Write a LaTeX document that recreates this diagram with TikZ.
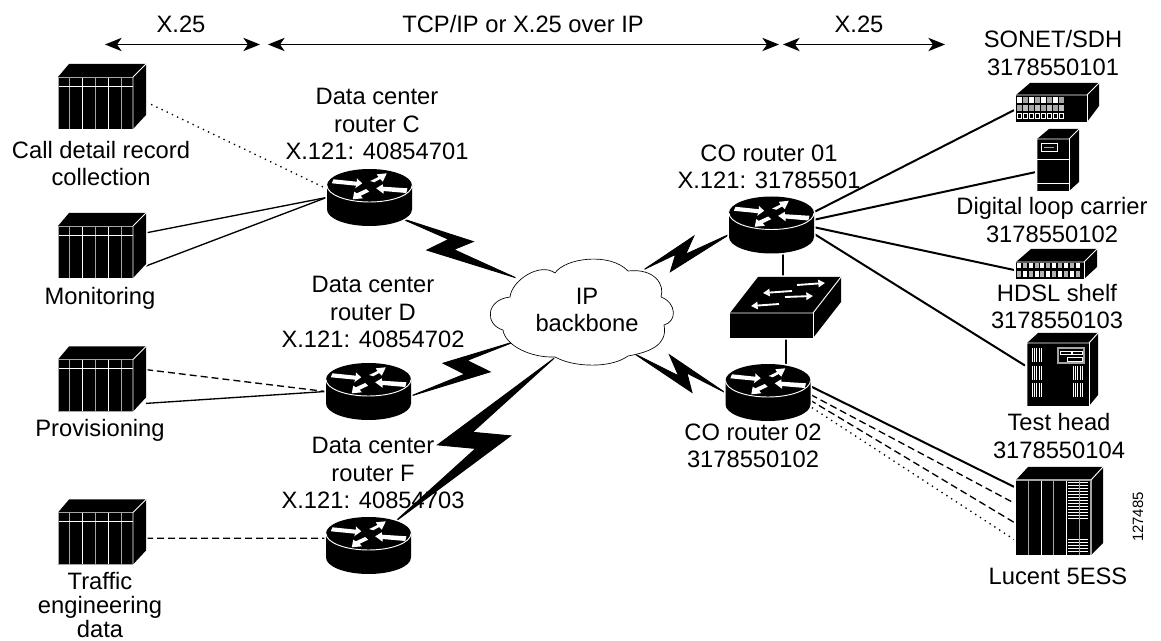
\documentclass[tikz,border=0pt]{standalone}
\usepackage{fontspec}
\setmainfont{Liberation Sans}
\usetikzlibrary{arrows.meta,calc,shapes.geometric}
\definecolor{lightedge}{gray}{0.65}

% zigzag between two nodes: tip, inner point, end, tip, inner point
\newcommand{\bolt}[9]{\filldraw[line width=0.7pt,line join=miter] (#1) -- ($(#1)!#3!(#2)+(#1)!#4!90:(#2)-(#1)$) -- ($(#1)!#7!(#2)+(#1)!-#9!90:(#2)-(#1)$) -- (#2) -- ($(#1)!#5!(#2)+(#1)!#6!90:(#2)-(#1)$) -- ($(#1)!#8!(#2)+(#1)!#9!90:(#2)-(#1)$) -- cycle;}

\tikzset{
  lbl/.style={align=center,inner sep=0pt,font=\fontsize{17.8}{20.3}\selectfont},
  box/.style={rectangle,inner sep=0pt,outer sep=0pt},
  rackbox/.style={box,minimum width=66pt,minimum height=48.75pt},
  roundbox/.style={ellipse,inner sep=0pt,outer sep=0pt,minimum width=64.5pt,minimum height=42.75pt},
  hop/.style={line width=1pt,{Stealth[length=12.5pt,width=10pt,inset=3.5pt]}-{Stealth[length=12.5pt,width=10pt,inset=3.5pt]}},
  thinline/.style={line width=1pt},
  heavyline/.style={line width=1.5pt},
  dots/.style={line width=1pt,dash pattern=on 1pt off 3.3pt},
  dashes/.style={line width=1pt,dash pattern=on 5.25pt off 3pt},
  body/.style={fill=black,preaction={draw=white,line width=2.5pt}},
  edgew/.style={white,line width=0.7pt},
  edgeg/.style={lightedge,line width=0.6pt},
  rimg/.style={lightedge,line width=1pt},
  pics/rack/.style={code={
    \path[body] (-44,-19.5)--(-33,-32.5)--(44,-32.5)--(44,18.5)--(31,32.5)--(-44,32.5)--cycle;
    \foreach \x in {-33,-7,19} {\draw[edgeg] (\x,-19.5)--(\x,32.5);}
    \foreach \x in {-20,6} {\draw[edgew] (\x,-19.5)--(\x,32.5);}
    \draw[edgew] (-44,-10.5)--(31,-10.5);
    \draw[edgeg] (-44,32.5)--(-44,-19.5)--(31,-19.5);
    \draw[edgew] (44,-32.5)--(31,-19.5)--(31,32.5);
  }},
  pics/router/.style={code={
    \path[body] (-42.5,-12) .. controls (-42.5,-21.1) and (-23.5,-28.5) .. (0,-28.5) .. controls (23.5,-28.5) and (42.5,-21.1) .. (42.5,-12) -- (42.5,12) .. controls (42.5,21.1) and (23.5,28.5) .. (0,28.5) .. controls (-23.5,28.5) and (-42.5,21.1) .. (-42.5,12) -- cycle;
    \draw[edgew] (-42.5,-12) .. controls (-42.5,-2.9) and (-23.5,4.5) .. (0,4.5) .. controls (23.5,4.5) and (42.5,-2.9) .. (42.5,-12);
    \fill[white] (-36,-18.2)--(-37.7,-14.2)--(-13.3,-11.8)--(-14.3,-9.2)--(-7.3,-14.2)--(-12.7,-19.2)--(-12.7,-15.8)--cycle;
    \fill[white] (0.7,-16.5)--(4.7,-15.2)--(10.7,-18.5)--(13.3,-15.8)--(17.3,-24.2)--(7.3,-23.2)--(9,-20.5)--cycle;
    \fill[white] (-3.3,-8.5)--(-0.3,-5.8)--(-8.7,-1.8)--(-6.7,0.8)--(-16.7,1.8)--(-15.3,-5.8)--(-12.7,-4.2)--cycle;
    \fill[white] (38,-9.2)--(36.7,-4.5)--(14,-6.5)--(14,-3.8)--(6.7,-9.2)--(13.3,-13.2)--(13.3,-10.8)--cycle;
  }},
  pics/switchbox/.style={code={
    \path[body] (-55.5,5.5)--(-27.5,-30.5)--(55.5,-30.5)--(55.5,-5.5)--(27.5,30.5)--(-55.5,30.5)--cycle;
    \draw[edgew] (-55.5,5.5)--(27.5,5.5)--(55.5,-30.5);
    \draw[edgew] (27.5,5.5)--(27.5,30.5);
    \foreach \a/\b/\c/\d in {11.5/-22.5/39.5/-24.5,6.5/-16.5/-22.5/-14.5,-0.5/-10.5/27.5/-11.5,-6.5/-3.5/-34.5/-1.5}
      {\draw[white,line width=1.4pt,-{Triangle[length=5pt,width=5.5pt]}] (\a,\b)--(\c,\d);}
  }},
  pics/sonetbox/.style={code={
    \path[body] (-41.5,-7.5)--(-27.5,-19.5)--(41.5,-19.5)--(41.5,3.5)--(29.5,19.5)--(-41.5,19.5)--cycle;
    \draw[edgew] (-41.5,-7.5)--(29.5,-7.5)--(41.5,-19.5);
    \draw[edgew] (29.5,-7.5)--(29.5,19.5);
    \foreach \k in {0,...,7} {
      \pgfmathsetmacro{\xa}{-40.5+6*\k}
      \pgfmathsetmacro{\shade}{mod(\k,2)==0 ? 100 : 65}
      \fill[white!\shade!black] (\xa,-5.5) rectangle ++(4.5,6);
      \pgfmathsetmacro{\shade}{mod(\k,2)==0 ? 65 : 75}
      \fill[white!\shade!black] (\xa,2.5) rectangle ++(4.5,6);
      \draw[edgew,line width=0.5pt] (\xa,10.5) rectangle ++(4.5,5);
    }
  }},
  pics/serverbox/.style={code={
    \path[body] (-21,-21)--(-9,-31)--(21,-31)--(21,22)--(11,31)--(-21,31)--cycle;
    \draw[edgew] (-21,31)--(-21,-21)--(11,-21)--(21,-31);
    \draw[edgew] (11,-21)--(11,31);
    \draw[edgew] (-21,-1)--(11,-1);
    \draw[edgew] (-21,23)--(11,23);
    \draw[edgew] (-17,-17) rectangle (-1,-9);
    \draw[edgeg] (-14,-13)--(-4,-13);
  }},
  pics/shelfbox/.style={code={
    \path[body] (-40.5,-2)--(-25.5,-15)--(40.5,-15)--(40.5,3)--(27.5,15)--(-40.5,15)--cycle;
    \draw[edgew] (-40.5,-2)--(27.5,-2)--(40.5,-15);
    \draw[edgew] (27.5,-2)--(27.5,15);
    \foreach \k in {0,...,10} {
      \pgfmathsetmacro{\xa}{-39.5+5.85*\k}
      \pgfmathsetmacro{\shade}{mod(\k,2)==0 ? 100 : 70}
      \fill[white!\shade!black] (\xa,-0.5) rectangle ++(4,4.5);
      \pgfmathsetmacro{\shade}{mod(\k,2)==0 ? 70 : 100}
      \fill[white!\shade!black] (\xa,7) rectangle ++(4,6);
    }
  }},
  pics/testbox/.style={code={
    \path[body] (-35.5,-26.5)--(-24.5,-36.5)--(35.5,-36.5)--(35.5,25.5)--(26.5,36.5)--(-35.5,36.5)--cycle;
    \draw[edgew] (-35.5,36.5)--(-35.5,-26.5)--(26.5,-26.5)--(35.5,-36.5);
    \draw[edgew] (26.5,-26.5)--(26.5,36.5);
    \foreach \xb/\yb in {-30.5/-21.5,-30.5/-3.5,-30.5/13.5,10.5/-3.5,10.5/13.5}
      \foreach \k in {0,...,4} {\draw[white,line width=0.6pt] (\xb+2.4*\k,\yb)--(\xb+2.4*\k,\yb+14.5);}
    \draw[edgeg,line width=0.9pt] (-4.5,-21.5) rectangle (21.5,-6.5);
    \draw[edgew,line width=0.5pt] (-2.5,-18.5) rectangle (8.5,-15.5);
    \draw[edgew,line width=0.5pt] (9.5,-18.5) rectangle (19.5,-15.5);
    \draw[edgew,line width=0.5pt] (4.5,-12.5) rectangle (19.5,-8.5);
  }},
  pics/essbox/.style={code={
    \path[body] (-43.5,-31)--(-31.5,-44)--(43.5,-44)--(43.5,32)--(31.5,44)--(-43.5,44)--cycle;
    \foreach \x in {-31.5,-6.5} {\draw[edgeg] (\x,-31)--(\x,44);}
    \foreach \x in {-18.5,6.5} {\draw[edgew] (\x,-31)--(\x,44);}
    \foreach \y in {-29,-26,...,7} {\draw[white,line width=0.6pt] (8.5,\y)--(28.5,\y);}
    \foreach \y in {28,31,...,42} {\draw[white,line width=0.6pt] (8.5,\y)--(28.5,\y);}
    \draw[edgeg] (19.5,-31)--(19.5,44);
    \draw[rimg] (-43.5,-31)--(31.5,-31)--(31.5,44);
    \draw[edgew] (31.5,-31)--(43.5,-44);
  }}
}

\begin{document}
\begin{tikzpicture}[x=0.75pt,y=-0.75pt]
\useasboundingbox (0,0) rectangle (1161,641);

\coordinate (hopa) at (105,44.5);
\coordinate (hopb) at (260,44.5);
\coordinate (hopc) at (268,44.5);
\coordinate (hopd) at (779,44.5);
\coordinate (hope) at (783,44.5);
\coordinate (hopf) at (945,44.5);
\node[lbl] (xleft) at (181,24) {X.25};
\node[lbl] (overip) at (523,24) {TCP/IP or X.25 over IP};
\node[lbl] (xright) at (859,24) {X.25};

\node[rackbox] (cdr) at (102,96.5) {};
\node[rackbox] (mon) at (102,245.5) {};
\node[rackbox] (prov) at (102,379) {};
\node[rackbox] (traf) at (102,532) {};
\node[roundbox] (routerC) at (369.5,197.5) {};
\node[roundbox] (routerD) at (368.5,391.5) {};
\node[roundbox] (routerF) at (368.5,545.5) {};
\node[roundbox] (coOne) at (771.5,225) {};
\node[roundbox] (coTwo) at (768,392.5) {};
\node[box,minimum width=83.25pt,minimum height=45.75pt] (sw) at (785.5,307.5) {};
\node[box,minimum width=62.25pt,minimum height=29.25pt,outer sep=1.5pt] (sonet) at (1057.5,102.5) {};
\node[box,minimum width=31.5pt,minimum height=46.5pt,outer sep=1.5pt] (dlc) at (1058,160) {};
\node[box,minimum width=60.75pt,minimum height=22.5pt,outer sep=1.5pt] (hdsl) at (1056.5,264) {};
\node[box,minimum width=53.25pt,minimum height=54.75pt,outer sep=1.5pt] (testhead) at (1062.5,369.5) {};
\node[box,minimum width=65.25pt,minimum height=66pt,outer sep=1.5pt] (ess) at (1059.5,511) {};
\node[lbl,ellipse,minimum width=135pt,minimum height=78pt] (ipnet) at (587,309.5) {};

\node[lbl] (lblcdr) at (101,163.5) {Call detail record\\collection};
\node[lbl] (lblmon) at (100,298) {Monitoring};
\node[lbl] (lblprov) at (100,430) {Provisioning};
\node[lbl] (lbltraf) at (100,605) {Traffic\\[-2pt]engineering\\[-2pt]data};
\node[lbl] (lblC) at (377,124) {Data center\\router C\\X.121: 40854701};
\node[lbl] (lblD) at (373,312) {Data center\\router D\\X.121: 40854702};
\node[lbl] (lblF) at (373,473) {Data center\\router F\\X.121: 40854703};
\node[lbl] (lblone) at (769,167) {CO router 01\\X.121: 31785501};
\node[lbl] (lbltwo) at (753,446) {CO router 02\\3178550102};
\node[lbl] (lblsonet) at (1053,53) {SONET/SDH\\3178550101};
\node[lbl] (lbldlc) at (1052,220) {Digital loop carrier\\3178550102};
\node[lbl] (lblhdsl) at (1057,306.5) {HDSL shelf\\3178550103};
\node[lbl] (lbltest) at (1059,436) {Test head\\3178550104};
\node[lbl] (lblless) at (1058,576) {Lucent 5ESS};
\node[inner sep=0pt,rotate=90,font=\fontsize{11.2}{13}\selectfont] (figno) at (1138,517) {127485};

\draw[hop] (hopa)--(hopb);
\draw[hop] (hopc)--(hopd);
\draw[hop] (hope)--(hopf);

\draw[dots] (cdr.-7)--(routerC.169);
\draw[thinline] (mon.16)--(routerC.west);
\draw[thinline] (mon.-25)--(routerC.west);
\draw[dashes] (prov.12)--(routerD.west);
\draw[thinline] (prov.-29)--(routerD.west);
\draw[dashes] (traf.-8)--(routerF.170);

\bolt{routerC.-34}{ipnet.156}{.585}{.097}{.30}{-.124}{.48}{.41}{.026}
\bolt{routerD.-6}{ipnet.-156}{.69}{-.13}{.37}{.12}{.56}{.49}{-.047}
\bolt{routerF.42}{ipnet.-124}{.625}{-.10}{.375}{.10}{.52}{.48}{-.03}
\bolt{ipnet.35}{coOne.-168}{.624}{.126}{.247}{-.13}{.47}{.37}{.02}
\bolt{ipnet.-43}{coTwo.west}{.69}{-.131}{.33}{.13}{.566}{.50}{-.03}

\draw[heavyline] (coOne.16)--(sonet.-170);
\draw[heavyline] (coOne.7)--(dlc.-152);
\draw[heavyline] (coOne.-3)--(hdsl.-172);
\draw[heavyline] (coOne.-11)--(testhead.174);
\draw[heavyline] ([xshift=-2pt]sw.north)--([xshift=-2pt]sw.north |- coOne.south);
\draw[heavyline] (sw.south)--(sw.south |- coTwo.north);
\draw[heavyline] (coTwo.9)--(ess.152);
\draw[dashes] (coTwo.-3)--(ess.170);
\draw[dashes] (coTwo.-10)--(ess.-166);
\draw[dots] (coTwo.-17)--(ess.-148);

% cloud
\draw[fill=white,line width=0.5pt] (510,297) .. controls (512,280) and (540,262) .. (555,273) .. controls (565,258) and (610,252) .. (628,271) .. controls (655,268) and (665,285) .. (661,297) .. controls (677,303) and (677,322) .. (664,325) .. controls (668,345) and (650,352) .. (628,356) .. controls (612,368) and (575,368) .. (555,357) .. controls (530,358) and (505,345) .. (503,330) .. controls (485,325) and (485,300) .. cycle;
\node[lbl] (iplbl) at (ipnet) {IP\\backbone};

\foreach \k in {cdr,mon,prov,traf} {\pic at (\k) {rack};}
\foreach \k in {routerC,routerD,routerF,coOne,coTwo} {\pic at (\k) {router};}
\pic at (sw) {switchbox};
\pic at (sonet) {sonetbox};
\pic at (dlc) {serverbox};
\pic at (hdsl) {shelfbox};
\pic at (testhead) {testbox};
\pic at (ess) {essbox};
\end{tikzpicture}
\end{document}
